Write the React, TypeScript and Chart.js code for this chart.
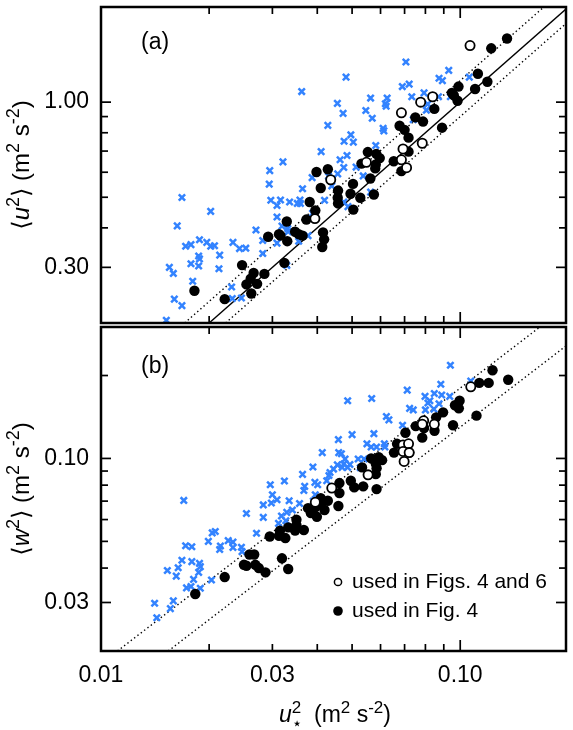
import React, { useEffect, useRef } from "react";
import { Chart, registerables } from "chart.js";
Chart.register(...registerables);

const FONT = "'Liberation Sans', Arial, Helvetica, 'DejaVu Sans', sans-serif";

// ---------- axis ranges & ticks ----------
const X_MIN = 0.01;
const X_MAX = 0.197;
const TOP_Y_MIN = 0.2;
const TOP_Y_MAX = 2.0;
const BOT_Y_MIN = 0.02;
const BOT_Y_MAX = 0.3;

const xTickValues = [0.01, 0.03, 0.1];
const xTickLabels = ["0.01", "0.03", "0.10"];
const xMinorTicks = [0.02, 0.03, 0.04, 0.05, 0.06, 0.07, 0.08, 0.09];
const xMajorTicks = [0.1];

const topYTickValues = [0.3, 1.0];
const topYTickLabels = ["0.30", "1.00"];
const topYMinor = [0.4, 0.5, 0.6, 0.7, 0.8, 0.9];
const botYTickValues = [0.03, 0.1];
const botYTickLabels = ["0.03", "0.10"];
const botYMinor = [0.04, 0.05, 0.06, 0.07, 0.08, 0.09, 0.2];

// ratio lines  <u^2> = k u*^2
const topSolidRatio = 10;
const topDottedRatios = [11.7, 9.0];
const botDottedRatios = [1.8, 1.3];

// ---------- panel (a): <u^2> vs u*^2 ----------
const topFilled: [number, number][] = [
  [0.135, 1.59], [0.122, 1.48], [0.112, 1.23], [0.119, 1.16], [0.110, 1.10], [0.0989, 1.12], [0.0948, 1.07],
  [0.0960, 1.05], [0.0983, 1.01], [0.0847, 0.952], [0.0890, 0.830], [0.0750, 0.895], [0.0788, 0.868],
  [0.0678, 0.842], [0.0700, 0.817], [0.0718, 0.772], [0.0718, 0.697], [0.0686, 0.605], [0.0653, 0.650],
  [0.0553, 0.695], [0.0584, 0.686], [0.0597, 0.665], [0.0582, 0.635], [0.0580, 0.617], [0.0531, 0.639],
  [0.0562, 0.573], [0.0428, 0.613], [0.0398, 0.601], [0.0409, 0.535], [0.0457, 0.525], [0.0456, 0.498],
  [0.0457, 0.478], [0.0503, 0.551], [0.0495, 0.513], [0.0527, 0.498], [0.0575, 0.510], [0.0504, 0.457],
  [0.0381, 0.483], [0.0395, 0.454], [0.0373, 0.425], [0.0329, 0.419], [0.0292, 0.375], [0.0313, 0.382],
  [0.0316, 0.378], [0.0330, 0.363], [0.0347, 0.389], [0.0355, 0.382], [0.0364, 0.378], [0.0415, 0.387],
  [0.0418, 0.368], [0.0413, 0.348], [0.0324, 0.310], [0.0285, 0.286], [0.0247, 0.305], [0.0266, 0.288],
  [0.0261, 0.276], [0.0254, 0.265], [0.0272, 0.266], [0.0262, 0.248], [0.0221, 0.238], [0.0182, 0.253],
];
const topOpen: [number, number][] = [
  [0.1065, 1.51], [0.0838, 1.04], [0.0776, 1.00], [0.0686, 0.925], [0.0784, 0.741], [0.0693, 0.711],
  [0.0686, 0.657], [0.0709, 0.620], [0.0548, 0.645], [0.0436, 0.568], [0.0394, 0.428],
];
const topCross: [number, number][] = [
  [0.0706, 1.34], [0.0481, 1.20], [0.0362, 1.08], [0.0929, 1.26], [0.0873, 1.19], [0.0892, 1.17], [0.0721, 1.14],
  [0.0690, 1.12], [0.106, 1.20], [0.0793, 1.07], [0.0733, 1.04], [0.0563, 1.03], [0.0626, 1.03], [0.0619, 0.988],
  [0.0622, 0.970], [0.0455, 0.991], [0.0472, 0.921], [0.0546, 0.941], [0.0569, 0.889], [0.0939, 1.04],
  [0.0870, 1.04], [0.0812, 0.986], [0.0805, 0.943], [0.0740, 0.880], [0.0428, 0.844], [0.0610, 0.826],
  [0.0613, 0.811], [0.0496, 0.788], [0.0475, 0.752], [0.0504, 0.747], [0.0582, 0.729], [0.0410, 0.697],
  [0.0484, 0.678], [0.0463, 0.657], [0.0513, 0.623], [0.0474, 0.621], [0.0537, 0.584], [0.0321, 0.647],
  [0.0295, 0.607], [0.0294, 0.550], [0.0456, 0.593], [0.0430, 0.583], [0.0387, 0.577], [0.0364, 0.532],
  [0.0439, 0.543], [0.0297, 0.489], [0.0309, 0.471], [0.0316, 0.490], [0.0335, 0.483], [0.0358, 0.490],
  [0.0359, 0.478], [0.0352, 0.478], [0.0419, 0.489], [0.0474, 0.483], [0.0487, 0.467], [0.0563, 0.519],
  [0.0388, 0.445], [0.0309, 0.433], [0.0319, 0.405], [0.0331, 0.398], [0.0332, 0.389], [0.0270, 0.394],
  [0.0377, 0.378], [0.0355, 0.363], [0.0309, 0.358], [0.0282, 0.365], [0.0282, 0.332], [0.0233, 0.360],
  [0.0243, 0.344], [0.0253, 0.345], [0.0329, 0.304], [0.0168, 0.499], [0.0202, 0.451], [0.0163, 0.406],
  [0.0172, 0.350], [0.0178, 0.354], [0.0188, 0.367], [0.0197, 0.360], [0.0202, 0.350], [0.0207, 0.351],
  [0.0187, 0.326], [0.0188, 0.319], [0.0187, 0.303], [0.0178, 0.308], [0.0214, 0.328], [0.0213, 0.297],
  [0.0155, 0.300], [0.0159, 0.287], [0.0180, 0.271], [0.0231, 0.260], [0.0232, 0.239], [0.0246, 0.240],
  [0.0160, 0.238], [0.0168, 0.227], [0.0152, 0.204],
];

// ---------- panel (b): <w^2> vs u*^2 ----------
const botFilled: [number, number][] = [
  [0.123, 0.209], [0.113, 0.188], [0.120, 0.188], [0.136, 0.193], [0.0996, 0.162], [0.0967, 0.156],
  [0.0991, 0.152], [0.0896, 0.147], [0.0857, 0.141], [0.111, 0.143], [0.0955, 0.132], [0.0848, 0.126],
  [0.0793, 0.129], [0.0752, 0.131], [0.0704, 0.124], [0.0784, 0.119], [0.0667, 0.113], [0.0654, 0.105],
  [0.0721, 0.105], [0.0593, 0.101], [0.0606, 0.0986], [0.0565, 0.100], [0.0582, 0.0959], [0.0585, 0.0922],
  [0.0533, 0.0928], [0.0582, 0.0877], [0.0496, 0.0830], [0.0507, 0.0785], [0.0537, 0.0792], [0.0585, 0.0774],
  [0.0461, 0.0814], [0.0461, 0.0749], [0.0458, 0.0672], [0.0428, 0.0702], [0.0409, 0.0718], [0.0409, 0.0683],
  [0.0419, 0.0650], [0.0395, 0.0664], [0.0399, 0.0614], [0.0377, 0.0660], [0.0384, 0.0633], [0.0350, 0.0599],
  [0.0350, 0.0573], [0.0347, 0.0547], [0.0367, 0.0550], [0.0332, 0.0562], [0.0315, 0.0547], [0.0326, 0.0514],
  [0.0313, 0.0524], [0.0295, 0.0521], [0.0319, 0.0434], [0.0332, 0.0397], [0.0259, 0.0448], [0.0267, 0.0448],
  [0.0250, 0.0411], [0.0254, 0.0408], [0.0269, 0.0411], [0.0275, 0.0400], [0.0287, 0.0386], [0.0221, 0.0371],
  [0.0183, 0.0322],
];
const botOpen: [number, number][] = [
  [0.107, 0.182], [0.0791, 0.137], [0.0784, 0.133], [0.0847, 0.133], [0.0693, 0.112], [0.0718, 0.113],
  [0.0693, 0.106], [0.0721, 0.105], [0.0698, 0.0975], [0.0554, 0.0872], [0.0439, 0.0781], [0.0395, 0.0693],
];
const botCross: [number, number][] = [
  [0.0939, 0.218], [0.107, 0.191], [0.0883, 0.186], [0.0712, 0.177], [0.0486, 0.162], [0.0567, 0.165],
  [0.0798, 0.168], [0.0847, 0.172], [0.0888, 0.170], [0.0935, 0.168], [0.0823, 0.162], [0.0813, 0.159],
  [0.0873, 0.158], [0.0723, 0.152], [0.0740, 0.150], [0.0800, 0.150], [0.0845, 0.151], [0.0623, 0.142],
  [0.0633, 0.138], [0.0691, 0.132], [0.0500, 0.122], [0.0575, 0.123], [0.0458, 0.117], [0.0550, 0.113],
  [0.0565, 0.110], [0.0585, 0.110], [0.0615, 0.113], [0.0617, 0.110], [0.0413, 0.105], [0.0459, 0.105],
  [0.0467, 0.104], [0.0478, 0.0995], [0.0520, 0.0995], [0.0540, 0.0995], [0.0455, 0.0948], [0.0474, 0.0954],
  [0.0469, 0.0928], [0.0486, 0.0928], [0.0493, 0.0951], [0.0527, 0.0925], [0.0389, 0.0931], [0.0444, 0.0915],
  [0.0434, 0.0889], [0.0431, 0.0867], [0.0364, 0.0875], [0.0425, 0.0830], [0.0394, 0.0819], [0.0401, 0.0803],
  [0.0369, 0.0792], [0.0367, 0.0765], [0.0324, 0.0828], [0.0296, 0.0803], [0.0300, 0.0738], [0.0309, 0.0708],
  [0.0298, 0.0689], [0.0334, 0.0702], [0.0357, 0.0686], [0.0395, 0.0738], [0.0390, 0.0700], [0.0283, 0.0678],
  [0.0341, 0.0650], [0.0329, 0.0637], [0.0318, 0.0618], [0.0327, 0.0594], [0.0312, 0.0581], [0.0283, 0.0611],
  [0.0254, 0.0631], [0.0271, 0.0535], [0.0204, 0.0537], [0.0208, 0.0543], [0.0199, 0.0500], [0.0215, 0.0481],
  [0.0214, 0.0467], [0.0226, 0.0503], [0.0233, 0.0497], [0.0233, 0.0475], [0.0246, 0.0476], [0.0247, 0.0459],
  [0.0172, 0.0482], [0.0179, 0.0478], [0.0170, 0.0704], [0.0168, 0.0427], [0.0164, 0.0401], [0.0153, 0.0392],
  [0.0162, 0.0374], [0.0179, 0.0422], [0.0188, 0.0416], [0.0189, 0.0405], [0.0187, 0.0386], [0.0181, 0.0364],
  [0.0178, 0.0343], [0.0173, 0.0339], [0.0189, 0.0338], [0.0203, 0.0362], [0.0159, 0.0304], [0.0156, 0.0285],
  [0.0141, 0.0298], [0.0143, 0.0264],
];

const legendLabels = ["used in Figs. 4 and 6", "used in Fig. 4"];

// ---------- helpers ----------
type Run = { t: string; italic?: boolean; sup?: boolean; sub?: boolean; noAdvance?: boolean };

function drawRich(ctx: CanvasRenderingContext2D, runs: Run[], x: number, y: number, size: number, rotate: boolean) {
  ctx.save();
  ctx.translate(x, y);
  if (rotate) ctx.rotate(-Math.PI / 2);
  const fontFor = (r: Run) =>
    `${r.italic ? "italic " : ""}${r.sup || r.sub ? Math.round(size * 0.76) : size}px ${FONT}`;
  let total = 0;
  const widths = runs.map((r) => {
    ctx.font = fontFor(r);
    const w = r.noAdvance ? 0 : ctx.measureText(r.t).width;
    total += w;
    return w;
  });
  let cx = -total / 2;
  ctx.textAlign = "left";
  ctx.textBaseline = "alphabetic";
  ctx.fillStyle = "#000";
  runs.forEach((r, i) => {
    ctx.font = fontFor(r);
    const dy = r.sup ? -size * 0.4 : r.sub ? size * 0.3 : 0;
    ctx.fillText(r.t, cx, dy + size * 0.36);
    cx += widths[i];
  });
  ctx.restore();
}

const toPts = (arr: [number, number][]) => arr.map(([x, y]) => ({ x, y }));

function ratioLine(k: number, ymin: number, ymax: number) {
  const x0 = Math.max(X_MIN, ymin / k);
  const x1 = Math.min(X_MAX, ymax / k);
  return [{ x: x0, y: k * x0 }, { x: x1, y: k * x1 }];
}

const BLUE = "#3383ff";

function pointDatasets(open: [number, number][], filled: [number, number][], cross: [number, number][]) {
  return [
    {
      data: toPts(open), pointStyle: "circle", pointRadius: 4.6, pointBackgroundColor: "#fff",
      pointBorderColor: "#000", pointBorderWidth: 1.8, showLine: false,
    },
    {
      data: toPts(filled), pointStyle: "circle", pointRadius: 5.2, pointBackgroundColor: "#000",
      pointBorderColor: "#000", pointBorderWidth: 0, showLine: false,
    },
    {
      data: toPts(cross), pointStyle: "crossRot", pointRadius: 4.5, pointBackgroundColor: BLUE,
      pointBorderColor: BLUE, pointBorderWidth: 2.5, showLine: false,
    },
  ];
}

function lineDataset(pts: { x: number; y: number }[], dotted: boolean) {
  return {
    data: pts, showLine: true, pointRadius: 0, borderColor: "#000",
    borderWidth: 1.4, borderDash: dotted ? [1.4, 2.8] : [], fill: false,
  };
}

function makeDecor(cfg: {
  yMajor: number[]; yMinor: number[]; panel: string; panelY: number; yTitle: Run[];
  extra?: (ctx: CanvasRenderingContext2D) => void;
}) {
  return {
    id: "decor",
    afterDraw(chart: any) {
      const ctx: CanvasRenderingContext2D = chart.ctx;
      const { left, right, top, bottom } = chart.chartArea;
      const xs = chart.scales.x;
      const ys = chart.scales.y;
      ctx.save();
      ctx.strokeStyle = "#000";
      ctx.lineWidth = 1.7;
      const seg = (x1: number, y1: number, x2: number, y2: number) => {
        ctx.beginPath(); ctx.moveTo(x1, y1); ctx.lineTo(x2, y2); ctx.stroke();
      };
      const xt = (v: number, len: number) => {
        const p = xs.getPixelForValue(v);
        seg(p, bottom, p, bottom - len); seg(p, top, p, top + len);
      };
      const yt = (v: number, len: number) => {
        const p = ys.getPixelForValue(v);
        seg(left, p, left + len, p); seg(right, p, right - len, p);
      };
      xMinorTicks.forEach((v) => xt(v, 7));
      xMajorTicks.forEach((v) => xt(v, 11));
      cfg.yMinor.forEach((v) => yt(v, 7));
      cfg.yMajor.forEach((v) => yt(v, 10));
      ctx.lineWidth = 2.5;
      ctx.strokeRect(left, top, right - left, bottom - top);
      // panel label
      ctx.fillStyle = "#000";
      ctx.font = `23px ${FONT}`;
      ctx.textAlign = "left";
      ctx.textBaseline = "middle";
      ctx.fillText(cfg.panel, 141, cfg.panelY);
      // y title
      drawRich(ctx, cfg.yTitle, 20, (top + bottom) / 2, 24, true);
      if (cfg.extra) cfg.extra(ctx);
      ctx.restore();
    },
  };
}

function yScale(min: number, max: number, values: number[], labels: string[]) {
  return {
    type: "logarithmic" as const,
    min, max, position: "left" as const,
    grid: { display: false, drawTicks: false },
    border: { display: false },
    ticks: {
      autoSkip: false, padding: 12, color: "#000",
      font: { family: FONT, size: 23 },
      callback: (_v: any, i: number) => labels[i],
    },
    afterBuildTicks: (s: any) => { s.ticks = values.map((v) => ({ value: v })); },
    afterFit: (s: any) => { s.width = 101; s.paddingTop = 0; s.paddingBottom = 0; },
  };
}

export default function App() {
  const refA = useRef<HTMLCanvasElement>(null);
  const refB = useRef<HTMLCanvasElement>(null);

  useEffect(() => {
    const topTitle: Run[] = [
      { t: "⟨" }, { t: "u", italic: true }, { t: "2", sup: true }, { t: "⟩ (m" }, { t: "2", sup: true },
      { t: " s" }, { t: "-2", sup: true }, { t: ")" },
    ];
    const botTitle: Run[] = [
      { t: "⟨" }, { t: "w", italic: true }, { t: "2", sup: true }, { t: "⟩ (m" }, { t: "2", sup: true },
      { t: " s" }, { t: "-2", sup: true }, { t: ")" },
    ];
    const xTitle: Run[] = [
      { t: "u", italic: true }, { t: "⋆", sub: true, noAdvance: true }, { t: "2", sup: true },
      { t: "  (m" }, { t: "2", sup: true }, { t: " s" }, { t: "-2", sup: true }, { t: ")" },
    ];

    const chartA = new Chart(refA.current!, {
      type: "scatter",
      data: {
        datasets: [
          ...pointDatasets(topOpen, topFilled, topCross),
          lineDataset(ratioLine(topSolidRatio, TOP_Y_MIN, TOP_Y_MAX), false),
          ...topDottedRatios.map((k) => lineDataset(ratioLine(k, TOP_Y_MIN, TOP_Y_MAX), true)),
        ] as any,
      },
      options: {
        animation: false, responsive: false, events: [],
        layout: { padding: { left: 0, right: 1, top: 1, bottom: 4 } },
        plugins: { legend: { display: false }, tooltip: { enabled: false } },
        scales: {
          x: { type: "logarithmic", min: X_MIN, max: X_MAX, display: false },
          y: yScale(TOP_Y_MIN, TOP_Y_MAX, topYTickValues, topYTickLabels) as any,
        },
      },
      plugins: [makeDecor({ yMajor: topYTickValues, yMinor: topYMinor, panel: "(a)", panelY: 43, yTitle: topTitle })],
    });

    const chartB = new Chart(refB.current!, {
      type: "scatter",
      data: {
        datasets: [
          ...pointDatasets(botOpen, botFilled, botCross),
          ...botDottedRatios.map((k) => lineDataset(ratioLine(k, BOT_Y_MIN, BOT_Y_MAX), true)),
        ] as any,
      },
      options: {
        animation: false, responsive: false, events: [],
        layout: { padding: { left: 0, right: 1, top: 6, bottom: 0 } },
        plugins: { legend: { display: false }, tooltip: { enabled: false } },
        scales: {
          x: {
            type: "logarithmic", min: X_MIN, max: X_MAX, position: "bottom",
            grid: { display: false, drawTicks: false },
            border: { display: false },
            ticks: {
              autoSkip: false, padding: 11, color: "#000", maxRotation: 0,
              font: { family: FONT, size: 23 },
              callback: (_v: any, i: number) => xTickLabels[i],
            },
            afterBuildTicks: (s: any) => { s.ticks = xTickValues.map((v) => ({ value: v })); },
            afterFit: (s: any) => { s.height = 79; s.paddingLeft = 0; s.paddingRight = 0; },
          } as any,
          y: yScale(BOT_Y_MIN, BOT_Y_MAX, botYTickValues, botYTickLabels) as any,
        },
      },
      plugins: [makeDecor({
        yMajor: botYTickValues, yMinor: botYMinor, panel: "(b)", panelY: 47, yTitle: botTitle,
        extra: (ctx) => {
          // legend
          const lx = 338;
          const ly = [262, 291];
          ctx.lineWidth = 1.5;
          ctx.strokeStyle = "#000";
          ctx.fillStyle = "#fff";
          ctx.beginPath(); ctx.arc(lx, ly[0], 3.6, 0, Math.PI * 2); ctx.fill(); ctx.stroke();
          ctx.fillStyle = "#000";
          ctx.beginPath(); ctx.arc(lx, ly[1], 4.8, 0, Math.PI * 2); ctx.fill();
          ctx.font = `21px ${FONT}`;
          ctx.textAlign = "left";
          ctx.textBaseline = "middle";
          ctx.fillText(legendLabels[0], 352, ly[0]);
          ctx.fillText(legendLabels[1], 352, ly[1]);
          // x title
          drawRich(ctx, xTitle, 335, 394, 23, false);
        },
      })],
    });

    return () => { chartA.destroy(); chartB.destroy(); };
  }, []);

  return (
    <div style={{ position: "absolute", left: 0, top: 0, width: 573, height: 730, background: "#fff" }}>
      <canvas ref={refA} width={573} height={330} style={{ position: "absolute", left: 0, top: 0 }} />
      <canvas ref={refB} width={573} height={410} style={{ position: "absolute", left: 0, top: 320 }} />
    </div>
  );
}
